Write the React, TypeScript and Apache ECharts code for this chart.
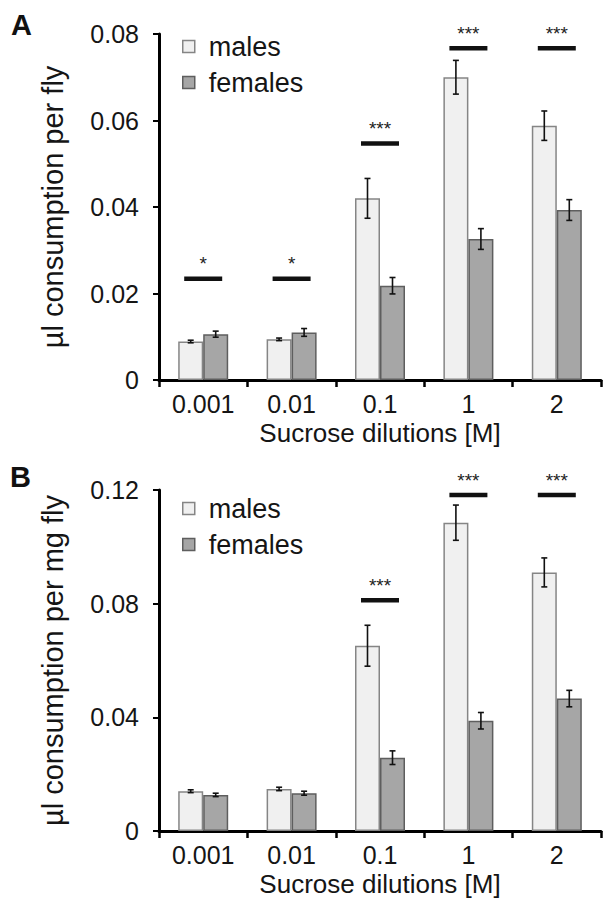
import React, { useEffect, useRef } from "react";
import * as echarts from "echarts";

const categories = ["0.001", "0.01", "0.1", "1", "2"];

// Panel A: µl consumption per fly
const aMales = [0.0089, 0.0094, 0.042, 0.07, 0.0588];
const aMalesErr = [0.0003, 0.0003, 0.0046, 0.0039, 0.0034];
const aFemales = [0.0106, 0.011, 0.0218, 0.0326, 0.0393];
const aFemalesErr = [0.0007, 0.0009, 0.0019, 0.0024, 0.0024];
const aSigIndex = [0, 1, 2, 3, 4];
const aSigHeight = [0.0234, 0.0234, 0.0547, 0.0767, 0.0767];
const aSigStars = ["*", "*", "***", "***", "***"];
const aTicks = { min: 0, max: 0.08, interval: 0.02 };

// Panel B: µl consumption per mg fly
const bMales = [0.014, 0.0148, 0.0652, 0.1085, 0.091];
const bMalesErr = [0.0005, 0.0006, 0.0072, 0.0062, 0.0051];
const bFemales = [0.0127, 0.0133, 0.0258, 0.0388, 0.0466];
const bFemalesErr = [0.0006, 0.0007, 0.0024, 0.0029, 0.0029];
const bSigIndex = [2, 3, 4];
const bSigHeight = [0.0812, 0.1182, 0.1182];
const bSigStars = ["***", "***", "***"];
const bTicks = { min: 0, max: 0.12, interval: 0.04 };

const FONT = "'Liberation Sans', Arial, Helvetica, sans-serif";
const TXT = "#151515";
const MALE_FILL = "#f0f0f0";
const MALE_BORDER = "#858585";
const FEMALE_FILL = "#a6a6a6";
const FEMALE_BORDER = "#5e5e5e";
const BAR_W = 25;

function errorSeries(idx: number, vals: number[], errs: number[], offset: number) {
  return {
    type: "custom",
    xAxisIndex: idx,
    yAxisIndex: idx,
    z: 5,
    silent: true,
    data: vals.map((v, i) => [i, v, errs[i]]),
    renderItem: (params: any, api: any) => {
      const i = api.value(0);
      const v = api.value(1);
      const e = api.value(2);
      const x = api.coord([i, v])[0] + offset;
      const yHi = api.coord([i, v + e])[1];
      const yLo = api.coord([i, v - e])[1];
      const st = { stroke: "#111", lineWidth: 1.6 };
      return {
        type: "group",
        children: [
          { type: "line", shape: { x1: x, y1: yHi, x2: x, y2: yLo }, style: st },
          { type: "line", shape: { x1: x - 3, y1: yHi, x2: x + 3, y2: yHi }, style: st },
          { type: "line", shape: { x1: x - 3, y1: yLo, x2: x + 3, y2: yLo }, style: st },
        ],
      };
    },
  };
}

function sigSeries(idx: number, cats: number[], heights: number[], stars: string[]) {
  return {
    type: "custom",
    xAxisIndex: idx,
    yAxisIndex: idx,
    z: 6,
    silent: true,
    clip: false,
    data: cats.map((c, i) => [c, heights[i]]),
    renderItem: (params: any, api: any) => {
      const p = api.coord([api.value(0), api.value(1)]);
      const label = stars[params.dataIndex];
      return {
        type: "group",
        children: [
          {
            type: "line",
            shape: { x1: p[0] - 19, y1: p[1], x2: p[0] + 19, y2: p[1] },
            style: { stroke: "#111", lineWidth: 4.5 },
          },
          {
            type: "text",
            x: p[0],
            y: p[1] - 15,
            style: {
              text: label,
              fontSize: 19,
              fontFamily: FONT,
              fill: "#222",
              align: "center",
              verticalAlign: "middle",
            },
          },
        ],
      };
    },
  };
}

function barSeries(idx: number, name: string, vals: number[], fill: string, border: string) {
  return {
    type: "bar",
    name,
    xAxisIndex: idx,
    yAxisIndex: idx,
    barWidth: BAR_W,
    barGap: "0%",
    data: vals,
    itemStyle: { color: fill, borderColor: border, borderWidth: 1.5 },
  };
}

function yAxis(idx: number, name: string, t: { min: number; max: number; interval: number }) {
  return {
    type: "value",
    gridIndex: idx,
    min: t.min,
    max: t.max,
    interval: t.interval,
    name,
    nameLocation: "middle",
    nameGap: 92,
    nameTextStyle: { fontSize: 29, fontFamily: FONT, color: TXT },
    axisLine: { show: true, lineStyle: { color: "#000", width: 3 } },
    axisTick: { show: true, length: 6, lineStyle: { color: "#000", width: 2 } },
    axisLabel: { fontSize: 25, fontFamily: FONT, color: TXT, margin: 20 },
    splitLine: { show: false },
  };
}

function xAxis(idx: number) {
  return {
    type: "category",
    gridIndex: idx,
    data: categories,
    name: "Sucrose dilutions [M]",
    nameLocation: "middle",
    nameGap: 40,
    nameTextStyle: { fontSize: 26, fontFamily: FONT, color: TXT },
    axisLine: { show: true, lineStyle: { color: "#000", width: 3 } },
    axisTick: { show: true, length: 7, lineStyle: { color: "#000", width: 2.5 } },
    axisLabel: { fontSize: 25, fontFamily: FONT, color: TXT, margin: 11 },
    splitLine: { show: false },
  };
}

function legend(top: number) {
  return {
    orient: "vertical",
    left: 182,
    top,
    padding: 0,
    itemWidth: 12,
    itemHeight: 12,
    itemGap: 9,
    icon: "rect",
    selectedMode: false,
    textStyle: { fontSize: 27, fontFamily: FONT, color: TXT, padding: [0, 0, 0, 9] },
    data: [
      { name: "males", itemStyle: { color: MALE_FILL, borderColor: MALE_BORDER, borderWidth: 1.5 } },
      { name: "females", itemStyle: { color: FEMALE_FILL, borderColor: FEMALE_BORDER, borderWidth: 1.5 } },
    ],
  };
}

export default function App() {
  const ref = useRef<HTMLDivElement>(null);
  useEffect(() => {
    document.body.style.margin = "0";
    if (!ref.current) return;
    const chart = echarts.init(ref.current, null, { renderer: "svg" });
    chart.setOption({
      animation: false,
      backgroundColor: "#ffffff",
      textStyle: { fontFamily: FONT },
      grid: [
        { left: 159, top: 34, width: 442, height: 346 },
        { left: 159, top: 490, width: 442, height: 341 },
      ],
      xAxis: [xAxis(0), xAxis(1)],
      yAxis: [yAxis(0, "µl consumption per fly", aTicks), yAxis(1, "µl consumption per mg fly", bTicks)],
      legend: [legend(33), legend(495)],
      graphic: [
        { type: "text", left: 11, top: 10, style: { text: "A", fontSize: 29, fontWeight: "bold", fontFamily: FONT, fill: "#111" } },
        { type: "text", left: 10, top: 462, style: { text: "B", fontSize: 29, fontWeight: "bold", fontFamily: FONT, fill: "#111" } },
      ],
      series: [
        barSeries(0, "males", aMales, MALE_FILL, MALE_BORDER),
        barSeries(0, "females", aFemales, FEMALE_FILL, FEMALE_BORDER),
        errorSeries(0, aMales, aMalesErr, -BAR_W / 2),
        errorSeries(0, aFemales, aFemalesErr, BAR_W / 2),
        sigSeries(0, aSigIndex, aSigHeight, aSigStars),
        barSeries(1, "males", bMales, MALE_FILL, MALE_BORDER),
        barSeries(1, "females", bFemales, FEMALE_FILL, FEMALE_BORDER),
        errorSeries(1, bMales, bMalesErr, -BAR_W / 2),
        errorSeries(1, bFemales, bFemalesErr, BAR_W / 2),
        sigSeries(1, bSigIndex, bSigHeight, bSigStars),
      ],
    });
    return () => chart.dispose();
  }, []);
  return <div ref={ref} style={{ width: 605, height: 905 }} />;
}
